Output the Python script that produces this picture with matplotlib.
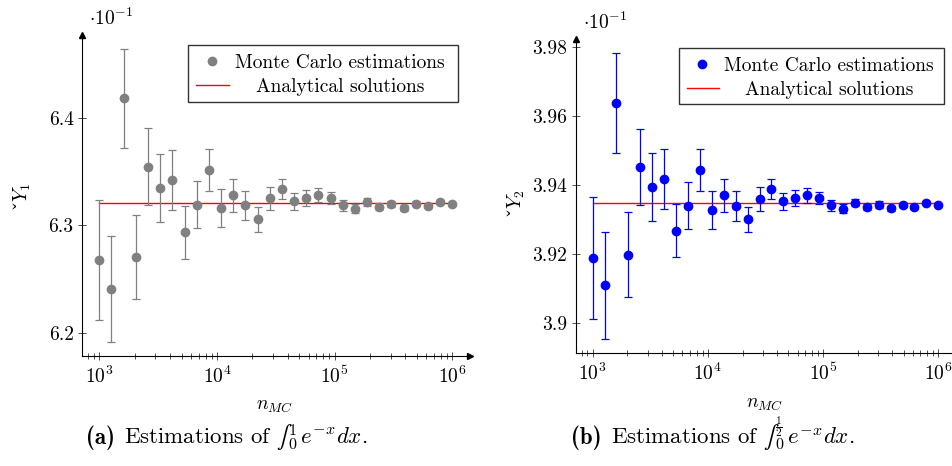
import numpy as np
import matplotlib
matplotlib.use("Agg")
import matplotlib.pyplot as plt
from matplotlib.patches import Rectangle
from matplotlib.lines import Line2D
from matplotlib.mathtext import MathTextParser

plt.rcParams['font.family'] = ['cmr10', 'DejaVu Serif']
plt.rcParams['mathtext.fontset'] = 'cm'
plt.rcParams['axes.unicode_minus'] = False
plt.rcParams['axes.formatter.use_mathtext'] = True
plt.rcParams['font.size'] = 14

# ---------------- data ----------------
n_mc = [1000, 1269, 1610, 2043, 2593, 3290, 4175, 5298, 6723, 8532,
        10826, 13738, 17433, 22122, 28072, 35622, 45204, 57362, 72790, 92367,
        117210, 148735, 188739, 239503, 303920, 385662, 489390, 621017, 788046, 1000000]

y1 = [6.2677, 6.2410, 6.4185, 6.2708, 6.3550, 6.3352, 6.3424, 6.2935, 6.3193, 6.3517,
      6.3162, 6.3280, 6.3187, 6.3056, 6.3252, 6.3340, 6.3224, 6.3256, 6.3280, 6.3258,
      6.3187, 6.3156, 6.3218, 6.3174, 6.3196, 6.3162, 6.3202, 6.3181, 6.3221, 6.3196]
err1 = [0.0563, 0.0496, 0.0460, 0.0394, 0.0357, 0.0316, 0.0278, 0.0244, 0.0221, 0.0197,
        0.0174, 0.0154, 0.0135, 0.0118, 0.0107, 0.0097, 0.0079, 0.0072, 0.0065, 0.0056,
        0.0050, 0.0040, 0.0035, 0.0031, 0.0028, 0.0025, 0.0022, 0.0019, 0.0017, 0.0015]
exact1 = 6.3212

y2 = [3.9187, 3.9108, 3.9637, 3.9197, 3.9451, 3.9393, 3.9417, 3.9266, 3.9339, 3.9442,
      3.9325, 3.9369, 3.9338, 3.9299, 3.9358, 3.9387, 3.9351, 3.9361, 3.9369, 3.9361,
      3.9340, 3.9330, 3.9348, 3.9335, 3.9342, 3.9331, 3.9341, 3.9336, 3.9348, 3.9342]
err2 = [0.0177, 0.0155, 0.0144, 0.0124, 0.0111, 0.0098, 0.0087, 0.0077, 0.0069, 0.0062,
        0.0055, 0.0048, 0.0043, 0.0037, 0.0034, 0.0030, 0.0026, 0.0023, 0.0021, 0.0017,
        0.0016, 0.0013, 0.0011, 0.0010, 0.0009, 0.0008, 0.0007, 0.0006, 0.0005, 0.0005]
exact2 = 3.9347

yticks1 = [6.2, 6.3, 6.4]
yticklabels1 = ["6.2", "6.3", "6.4"]
yticks2 = [3.90, 3.92, 3.94, 3.96, 3.98]
yticklabels2 = ["3.9", "3.92", "3.94", "3.96", "3.98"]

legend_labels = ["Monte Carlo estimations", "Analytical solutions"]
ylabels = [r"$\check{Y}_1$", r"$\check{Y}_2$"]
xlabel = r"$n_{MC}$"
caption_tags = ["(a)", "(b)"]
caption_texts = [r"Estimations of $∫_0^1\, e^{-x}dx$.",
                 r"Estimations of $∫_0^{\frac{1}{2}}\, e^{-x}dx$."]
caption_fallback = [r"Estimations of $\int_0^1 e^{-x}dx$.",
                    r"Estimations of $\int_0^{1/2} e^{-x}dx$."]

# ---------------- figure ----------------
W, H = 952, 466
fig = plt.figure(figsize=(W / 100, H / 100), dpi=100)


def px_axes(l, r, t, b):
    return fig.add_axes([l / W, 1 - b / H, (r - l) / W, (b - t) / H])


def fx(x):
    return x / W


def fy(y):
    return 1 - y / H


ax1 = px_axes(82, 469.6, 35, 355.7)
ax2 = px_axes(575.5, 955.5, 39, 353.3)

panels = [
    (ax1, y1, err1, exact1, '#808080', (10 ** 2.853, 10 ** 6.147), (6.1785, 6.4777),
     yticks1, yticklabels1),
    (ax2, y2, err2, exact2, '#0000ff', (10 ** 2.851, 10 ** 6.149), (3.8911, 3.9822),
     yticks2, yticklabels2),
]

for i, (ax, y, e, ex, col, xl, yl, yt, ytl) in enumerate(panels):
    ax.set_xscale('log')
    ax.plot([n_mc[0], n_mc[-1]], [ex, ex], color='#ff0000', lw=1.0, zorder=2)
    ax.errorbar(n_mc, y, yerr=e, fmt='o', color=col, ms=6, capsize=3,
                elinewidth=0.9, capthick=0.9, zorder=3)
    ax.set_xlim(*xl)
    ax.set_ylim(*yl)
    ax.set_yticks(yt)
    ax.set_yticklabels(ytl)
    for s in ['top', 'right']:
        ax.spines[s].set_visible(False)
    for s in ['left', 'bottom']:
        ax.spines[s].set_linewidth(0.8)
    ax.tick_params(which='both', direction='inout', top=False, right=False,
                   width=0.6, color='#333333', labelsize=14)
    ax.tick_params(which='major', length=6, pad=3)
    ax.tick_params(which='minor', length=4)
    ax.tick_params(axis='x', which='major', pad=4)
    # arrows
    ax.plot(1, 0, marker='>', color='black', ms=4, transform=ax.transAxes, clip_on=False)
    ax.plot(0, 1, marker='^', color='black', ms=4, transform=ax.transAxes, clip_on=False)
    ax.set_ylabel(ylabels[i], fontsize=14)
    ax.set_xlabel(xlabel, fontsize=14)

ax1.yaxis.set_label_coords(-0.127, 0.5)
ax2.yaxis.set_label_coords(-0.128, 0.48)
ax1.xaxis.set_label_coords(0.498, -0.129)
ax2.xaxis.set_label_coords(0.499, -0.133)

# multipliers
fig.text(fx(89), fy(18), r"$\cdot 10^{-1}$", ha='left', va='center', fontsize=14)
fig.text(fx(583), fy(22), r"$\cdot 10^{-1}$", ha='left', va='center', fontsize=14)

# legends (drawn in figure pixel coordinates)
legends = [
    ((188.3, 45, 457.7, 101.7), (211.7, 61), (196, 229.3, 85), 340, '#808080'),
    ((679.3, 48.3, 944, 104.3), (702.3, 64.3), (686.7, 719.3, 88.3), 829, '#0000ff'),
]
for (l, t, r, b), (mx, my), (lx0, lx1, ly), tc, col in legends:
    fig.patches.append(Rectangle((fx(l), fy(b)), fx(r - l), (b - t) / H,
                                 transform=fig.transFigure, fill=True, facecolor='white',
                                 edgecolor='#333333', lw=1.0, zorder=5))
    fig.lines.append(Line2D([fx(mx)], [fy(my)], marker='o', ms=6, color=col,
                            transform=fig.transFigure, zorder=6))
    fig.lines.append(Line2D([fx(lx0), fx(lx1)], [fy(ly), fy(ly)], color='#ff0000', lw=1.0,
                            transform=fig.transFigure, zorder=6))
    fig.text(fx(tc), fy(my), legend_labels[0], ha='center', va='center_baseline',
             fontsize=14, zorder=7)
    fig.text(fx(tc), fy(ly), legend_labels[1], ha='center', va='center_baseline',
             fontsize=14, zorder=7)

# captions
parser = MathTextParser('agg')
for x0, tag, txt, fb in zip([86, 571], caption_tags, caption_texts, caption_fallback):
    try:
        parser.parse(txt[txt.index('$'):txt.rindex('$') + 1], dpi=100)
    except Exception:
        txt = fb
    t1 = fig.text(fx(x0), fy(444.5), tag, ha='left', va='baseline', fontsize=16.5,
                  family=['cmb10', 'DejaVu Serif'], fontweight='bold')
    fig.canvas.draw()
    bb = t1.get_window_extent()
    fig.text(fx(x0) + (bb.width + 9) / W, fy(444.5), txt, ha='left', va='baseline',
             fontsize=16.5)

fig.savefig("out.png", dpi=100)
